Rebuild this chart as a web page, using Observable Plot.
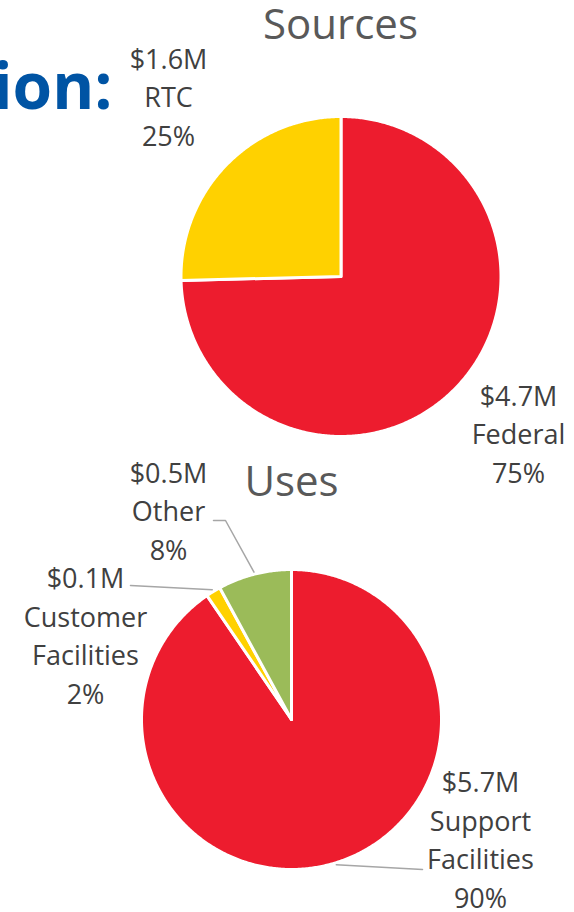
<!DOCTYPE html>
<html>
<head>
<meta charset="utf-8">
<script src="https://cdn.jsdelivr.net/npm/d3@7"></script>
<script src="https://cdn.jsdelivr.net/npm/@observablehq/plot@0.6"></script>
<style>
  html, body { margin: 0; padding: 0; background: #fff; }
  #chart svg { display: block; }
</style>
</head>
<body>
<div id="chart"></div>
<script>
// ---- Data ----
const sourcesNames = ["Federal", "RTC"];
const sourcesValues = [4.7, 1.6];
const sourcesColors = ["#ed1c2e", "#ffd100"];

const usesNames = ["Support Facilities", "Customer Facilities", "Other"];
const usesValues = [5.7, 0.1, 0.5];
const usesColors = ["#ed1c2e", "#ffd100", "#9bbb59"];

const titles = ["Sources", "Uses"];
const headingFragment = "ion:";

// ---- Layout ----
const W = 574, H = 912;
const pieLayout = [
  {cx: 340.5, cy: 276, r: 160, titleX: 340, titleY: 38,
   labels: [{x: 518, y: 482}, {x: 168, y: 145}], leaders: [null, null]},
  {cx: 291, cy: 719, r: 150, titleX: 291, titleY: 495,
   labels: [{x: 480, y: 907}, {x: 85, y: 703}, {x: 168, y: 559}],
   leaders: [[[422, 869]], [[130, 585]], [[225, 520], [213, 520]]]}
];

const datasets = [
  {names: sourcesNames, values: sourcesValues, colors: sourcesColors},
  {names: usesNames, values: usesValues, colors: usesColors}
];

const slicePts = [];
const labelRows = [];
const leaderPts = [];
const titleRows = [];

datasets.forEach((ds, p) => {
  const L = pieLayout[p];
  const rows = ds.names.map((n, i) => ({name: n, value: ds.values[i], color: ds.colors[i]}));
  const total = d3.sum(rows, d => d.value);
  const arcs = d3.pie().sort(null).value(d => d.value)(rows);
  titleRows.push({text: titles[p], x: L.titleX, y: L.titleY});
  arcs.forEach((a, i) => {
    const key = `${p}-${i}`;
    const step = Math.PI / 360;
    const n = Math.max(2, Math.ceil((a.endAngle - a.startAngle) / step));
    slicePts.push({key, color: a.data.color, x: L.cx, y: L.cy});
    for (let k = 0; k <= n; k++) {
      const t = a.startAngle + (a.endAngle - a.startAngle) * k / n;
      slicePts.push({key, color: a.data.color, x: L.cx + L.r * Math.sin(t), y: L.cy - L.r * Math.cos(t)});
    }
    slicePts.push({key, color: a.data.color, x: L.cx, y: L.cy});
    const pct = Math.round(a.data.value / total * 100);
    labelRows.push({
      text: `$${a.data.value.toFixed(1)}M\n${a.data.name.replace(" ", "\n")}\n${pct}%`,
      x: L.labels[i].x, y: L.labels[i].y
    });
    const ld = L.leaders[i];
    if (ld) {
      const mid = (a.startAngle + a.endAngle) / 2;
      const rr = L.r + 2;
      leaderPts.push({key, x: L.cx + rr * Math.sin(mid), y: L.cy - rr * Math.cos(mid)});
      ld.forEach(([x, y]) => leaderPts.push({key, x, y}));
    }
  });
});

const font = "'Open Sans', 'DejaVu Sans', sans-serif";

const chart = Plot.plot({
  width: W,
  height: H,
  margin: 0,
  style: {fontFamily: font, background: "#fff"},
  x: {type: "linear", domain: [0, W], range: [0, W], axis: null},
  y: {type: "linear", domain: [0, H], range: [0, H], axis: null},
  color: {type: "identity"},
  marks: [
    Plot.line(slicePts, {x: "x", y: "y", z: "key", fill: "color", stroke: "white", strokeWidth: 3, strokeLinejoin: "round", curve: "linear"}),
    Plot.line(leaderPts, {x: "x", y: "y", z: "key", stroke: "#a6a6a6", strokeWidth: 1.5}),
    Plot.text(titleRows, {x: "x", y: "y", text: "text", fontSize: 42, fill: "#595959", textAnchor: "middle", lineAnchor: "bottom"}),
    Plot.text(labelRows, {x: "x", y: "y", text: "text", fontSize: 27, lineHeight: 1.426, fill: "#404040", textAnchor: "middle", lineAnchor: "bottom"}),
    Plot.text([headingFragment], {x: () => 112, y: () => 108, text: d => d, fontSize: 64, fontWeight: "bold", fill: "#0054a4", textAnchor: "end", lineAnchor: "bottom"})
  ]
});

document.getElementById("chart").appendChild(chart);
</script>
</body>
</html>
